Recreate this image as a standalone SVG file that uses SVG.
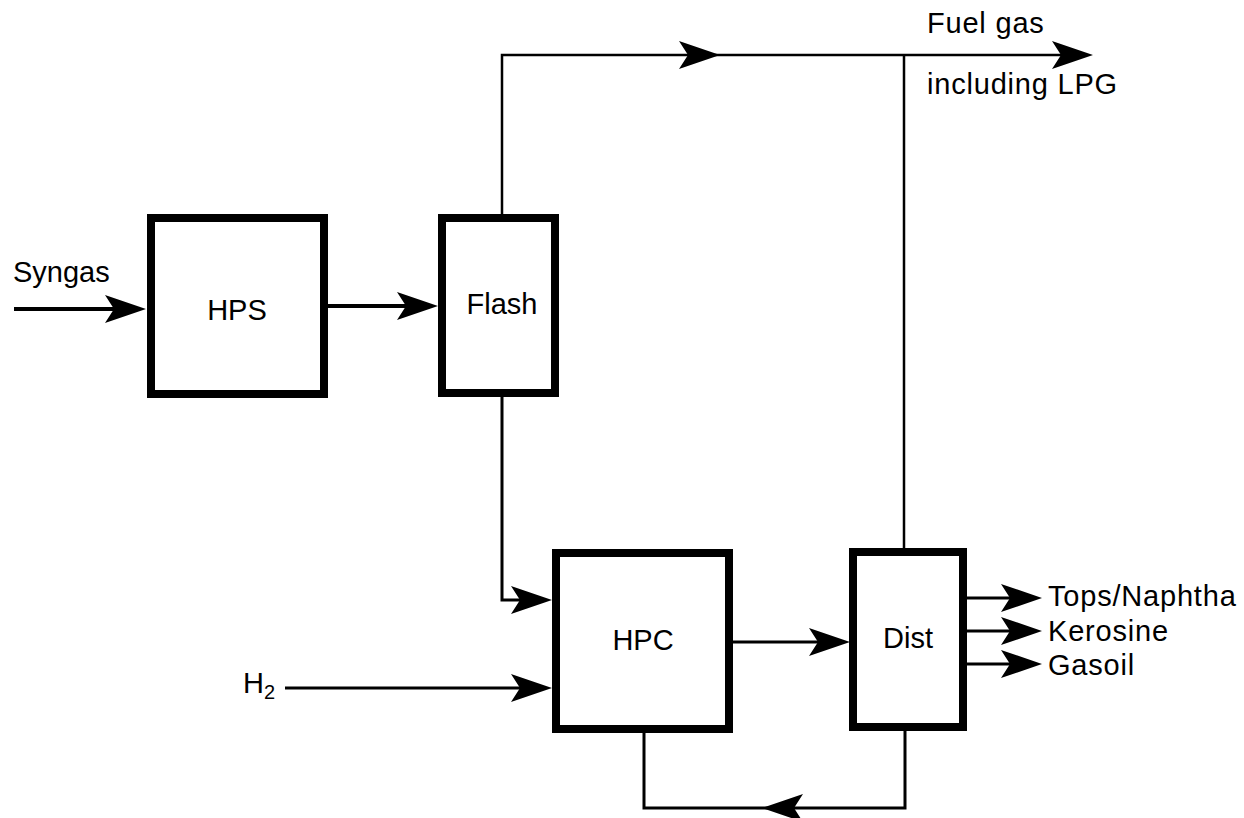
<svg xmlns="http://www.w3.org/2000/svg" xmlns:xlink="http://www.w3.org/1999/xlink" width="1244" height="818" viewBox="0 0 1244 818">
<style>
.box{fill:#fff;stroke:#000;stroke-width:8}
.ln{fill:none;stroke:#000;stroke-width:3}
.thin{fill:none;stroke:#000;stroke-width:2.5}
.thick{fill:none;stroke:#000;stroke-width:4}
text{font-family:"Liberation Sans",Arial,sans-serif;font-size:29px;fill:#000}
.c{text-anchor:middle}
.sp{letter-spacing:0.8px}
</style>
<defs>
<path id="ah" d="M0,0 L-41,-14 L-32,0 L-41,14 Z" fill="#000"/>
</defs>
<rect width="1244" height="818" fill="#fff"/>
<g id="connectors">
<line class="thick" x1="14" y1="309" x2="140" y2="309"/>
<use xlink:href="#ah" transform="translate(146,309)"/>
<line class="thick" x1="328" y1="306" x2="432" y2="306"/>
<use xlink:href="#ah" transform="translate(438,306)"/>
<polyline class="thin" points="502,214 502,55 1085,55"/>
<use xlink:href="#ah" transform="translate(720,55)"/>
<use xlink:href="#ah" transform="translate(1093,55)"/>
<line class="thin" x1="904" y1="55" x2="904" y2="548"/>
<polyline class="ln" points="502,397 502,600 546,600"/>
<use xlink:href="#ah" transform="translate(552,600)"/>
<line class="ln" x1="285" y1="688" x2="546" y2="688"/>
<use xlink:href="#ah" transform="translate(552,688)"/>
<line class="ln" x1="733" y1="642" x2="844" y2="642"/>
<use xlink:href="#ah" transform="translate(850,642)"/>
<polyline class="ln" points="905,731 905,808 644,808 644,733"/>
<use xlink:href="#ah" transform="translate(762,808) rotate(180)"/>
<line class="ln" x1="967" y1="598" x2="1036" y2="598"/>
<use xlink:href="#ah" transform="translate(1042,598)"/>
<line class="ln" x1="967" y1="631" x2="1036" y2="631"/>
<use xlink:href="#ah" transform="translate(1042,631)"/>
<line class="ln" x1="967" y1="664" x2="1036" y2="664"/>
<use xlink:href="#ah" transform="translate(1042,664)"/>
</g>
<g id="hps">
<rect class="box" x="151" y="218" width="173" height="176"/>
<text class="c" x="237" y="320">HPS</text>
</g>
<g id="flash">
<rect class="box" x="442" y="218" width="113" height="175"/>
<text class="c" x="502" y="314">Flash</text>
</g>
<g id="hpc">
<rect class="box" x="556" y="553" width="173" height="176"/>
<text class="c" x="643" y="650">HPC</text>
</g>
<g id="dist">
<rect class="box" x="853" y="552" width="110" height="175"/>
<text class="c" x="908" y="648">Dist</text>
</g>
<g id="labels">
<text x="13" y="282">Syngas</text>
<text x="243" y="693">H<tspan font-size="20" dy="6">2</tspan></text>
<text class="sp" x="927" y="33">Fuel gas</text>
<text class="sp" x="927" y="94">including LPG</text>
<text class="sp" x="1048" y="606">Tops/Naphtha</text>
<text class="sp" x="1048" y="641">Kerosine</text>
<text class="sp" x="1048" y="675">Gasoil</text>
</g>
</svg>
